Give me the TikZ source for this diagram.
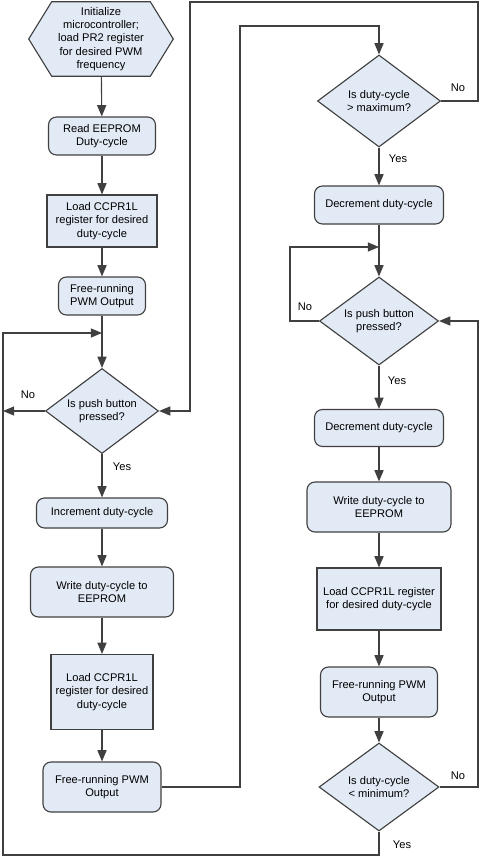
\documentclass[tikz,border=0pt]{standalone}
\usepackage{fontspec}
\setmainfont{Liberation Sans}
\usetikzlibrary{
  arrows.meta,
  calc,
  positioning,
  shapes.geometric,
  backgrounds
}
\definecolor{boxblue}{RGB}{226,234,245}
\definecolor{flowgray}{RGB}{64,64,64}

\begin{document}
\begin{tikzpicture}[x=0.025cm, y=-0.025cm,
  font=\fontsize{7.9}{9.5}\selectfont,
  base/.style={draw=flowgray, fill=boxblue, line width=0.8pt, align=center, inner sep=0pt},
  roundbox/.style={base, rectangle, rounded corners=0.2cm},
  sqbox/.style={base, rectangle},
  decision/.style={base, diamond, shape aspect=1.3},
  arr/.style={draw=flowgray, line width=0.8pt, -{Triangle[length=8pt,width=6.5pt]}},
  lbl/.style={inner sep=1pt}]
  \useasboundingbox (0,0) rectangle (480,857);

  % Left column
  \node[align=center, minimum width=3.6cm, minimum height=1.85cm, inner sep=0pt] (init) at (101,39)
    {Initialize\\microcontroller;\\load PR2 register\\for desired PWM\\frequency};
  \begin{scope}[on background layer]
    \filldraw[draw=flowgray, fill=boxblue, line width=0.8pt]
      ([xshift=0.575cm]init.north west) -- ([xshift=-0.575cm]init.north east) -- (init.east)
      -- ([xshift=-0.575cm]init.south east) -- ([xshift=0.575cm]init.south west) -- (init.west) -- cycle;
  \end{scope}
  \node[roundbox, minimum width=2.675cm, minimum height=0.95cm] (readee) at (102,136) {Read EEPROM\\Duty-cycle};
  \node[sqbox, minimum width=2.75cm, minimum height=1.3cm] (loadA) at (102,221) {Load CCPR1L\\register for desired\\duty-cycle};
  \node[roundbox, minimum width=2.175cm, minimum height=0.95cm] (freeA) at (102,296) {Free-running\\PWM Output};
  \node[decision, minimum width=2.825cm, minimum height=2.125cm] (pushA) at (102,411) {Is push button\\pressed?};
  \node[roundbox, minimum width=3.275cm, minimum height=0.75cm] (incA) at (102,513) {Increment duty-cycle};
  \node[roundbox, minimum width=3.575cm, minimum height=1.25cm] (writeA) at (102,592) {Write duty-cycle to\\EEPROM};
  \node[sqbox, minimum width=2.55cm, minimum height=1.875cm] (loadB) at (102,692) {Load CCPR1L\\register for desired\\duty-cycle};
  \node[roundbox, minimum width=2.95cm, minimum height=1.25cm] (freeB) at (102,787) {Free-running PWM\\Output};

  % Right column
  \node[decision, minimum width=3.075cm, minimum height=2.3cm] (maxD) at (379,101) {Is duty-cycle\\> maximum?};
  \node[roundbox, minimum width=3.225cm, minimum height=0.95cm] (decA) at (379,205) {Decrement duty-cycle};
  \node[decision, minimum width=2.975cm, minimum height=2.2cm] (pushB) at (379,321) {Is push button\\pressed?};
  \node[roundbox, minimum width=3.225cm, minimum height=0.925cm] (decB) at (379,428) {Decrement duty-cycle};
  \node[roundbox, minimum width=3.6cm, minimum height=1.25cm] (writeB) at (379,507) {Write duty-cycle to\\EEPROM};
  \node[sqbox, minimum width=3.1cm, minimum height=1.55cm] (loadC) at (379,599) {Load CCPR1L register\\for desired duty-cycle};
  \node[roundbox, minimum width=2.925cm, minimum height=1.25cm] (freeC) at (379,692) {Free-running PWM\\Output};
  \node[decision, minimum width=3.0cm, minimum height=2.2cm] (minD) at (379,787) {Is duty-cycle\\< minimum?};

  % Junctions and corners
  \coordinate (joinA) at (102,333);
  \coordinate (joinB) at (379,247);
  \coordinate (railL) at (3,411);
  \coordinate (botL) at (3,855);
  \coordinate (topR) at (478,2);
  \coordinate (topL) at (190,2);
  \coordinate (upL) at (240,26);
  \coordinate (noR) at (290,247);
  \coordinate (railR) at (478,321);

  % Straight arrows
  \draw[arr] (init) -- (readee);
  \draw[arr] (readee) -- (loadA);
  \draw[arr] (loadA) -- (freeA);
  \draw[arr] (freeA) -- (pushA);
  \draw[arr] (pushA) -- (incA);
  \draw[arr] (incA) -- (writeA);
  \draw[arr] (writeA) -- (loadB);
  \draw[arr] (loadB) -- (freeB);
  \draw[arr] (maxD) -- (decA);
  \draw[arr] (decA) -- (pushB);
  \draw[arr] (pushB) -- (decB);
  \draw[arr] (decB) -- (writeB);
  \draw[arr] (writeB) -- (loadC);
  \draw[arr] (loadC) -- (freeC);
  \draw[arr] (freeC) -- (minD);

  % Loops
  \draw[arr] (pushA.west) -- (railL);
  \draw[arr] (minD.south) |- (botL) |- (joinA);
  \draw[arr] (maxD.east) -| (topR) -- (topL) |- (pushA.east);
  \draw[arr] (freeB.east) -| (upL) -| (maxD.north);
  \draw[arr] (pushB.west) -| (noR) -- (joinB);
  \draw[arr] (minD.east) -| (railR) -- (pushB.east);

  % Yes / No labels
  \node[lbl] (noA) at (28,395) {No};
  \node[lbl] (yesA) at (122,467) {Yes};
  \node[lbl] (noB) at (458,88) {No};
  \node[lbl] (yesB) at (398,159) {Yes};
  \node[lbl] (noC) at (305,307) {No};
  \node[lbl] (yesC) at (397,381) {Yes};
  \node[lbl] (noD) at (458,776) {No};
  \node[lbl] (yesD) at (402,845) {Yes};
\end{tikzpicture}
\end{document}
